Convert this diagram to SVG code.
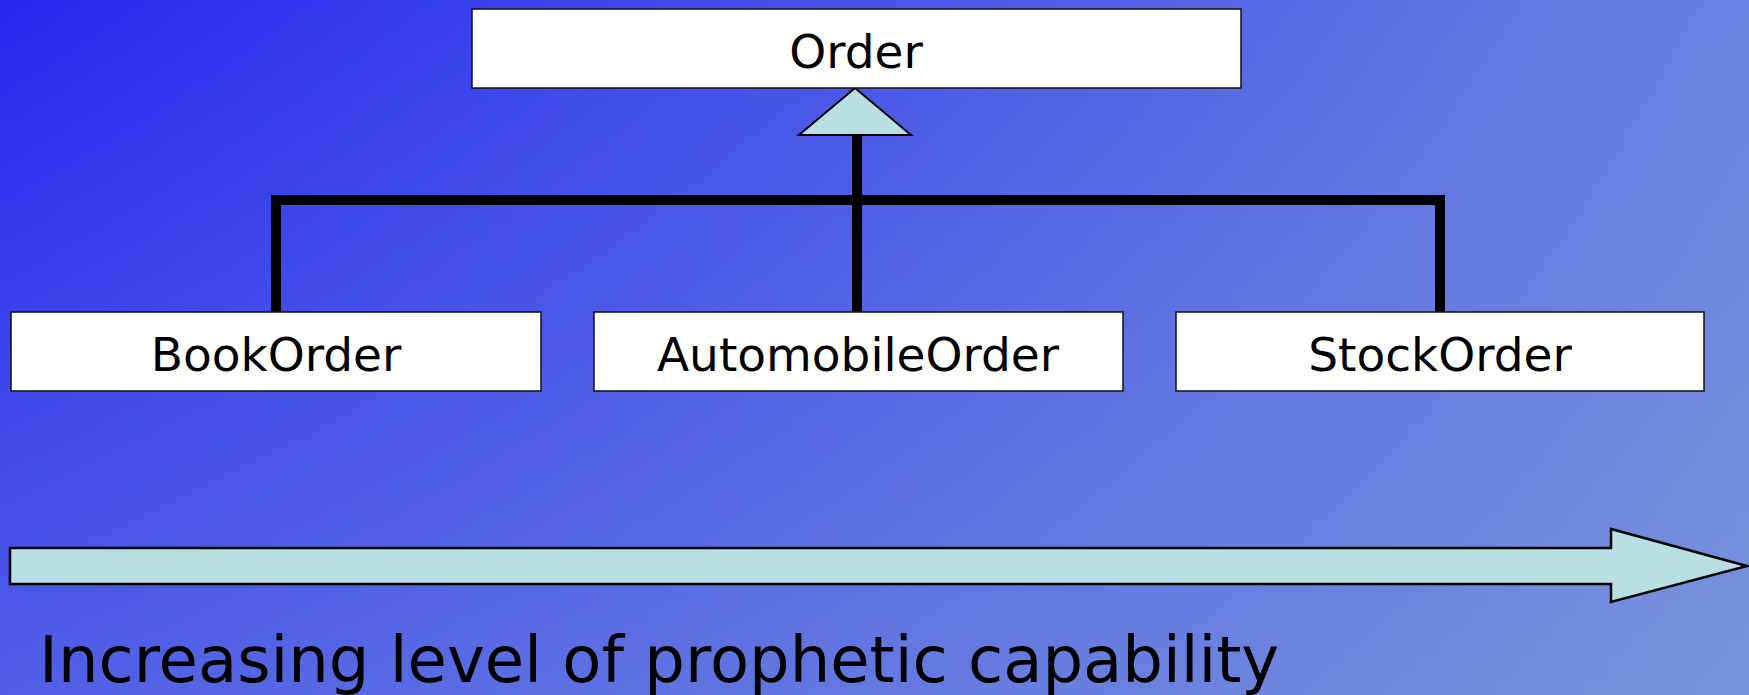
<svg xmlns="http://www.w3.org/2000/svg" width="1749" height="695" viewBox="0 0 1749 695">
  <defs>
    <linearGradient id="bgH" x1="0" y1="0" x2="1" y2="0">
      <stop offset="0" stop-color="#2428F0"/>
      <stop offset="1" stop-color="#6A82E0"/>
    </linearGradient>
    <linearGradient id="bgV" x1="0" y1="0" x2="0" y2="1">
      <stop offset="0" stop-color="#8CAAD7" stop-opacity="0"/>
      <stop offset="1" stop-color="#8CAAD7" stop-opacity="0.42"/>
    </linearGradient>
    <style>
      .box { fill: #FFFFFF; stroke: #111111; stroke-width: 1.5; }
      .lbl { font-family: "DejaVu Sans", Verdana, sans-serif; font-size: 47px; fill: #000000; text-anchor: middle; }
      .conn { fill: none; stroke: #000000; stroke-width: 10; stroke-linejoin: miter; stroke-linecap: butt; }
      .tri { fill: #B8E0E2; stroke: #000000; stroke-width: 2; stroke-linejoin: miter; }
      .big { fill: #B8E0E2; stroke: #000000; stroke-width: 2.5; stroke-linejoin: miter; }
      .caption { font-family: "DejaVu Sans", Verdana, sans-serif; font-size: 64px; fill: #000000; }
    </style>
  </defs>

  <rect x="0" y="0" width="1749" height="695" fill="url(#bgH)"/>
  <rect x="0" y="0" width="1749" height="695" fill="url(#bgV)"/>

  <g id="connectors">
    <path class="conn" d="M276,312 V200 H1440 V312"/>
    <path class="conn" d="M857,135 V312"/>
    <polygon class="tri" points="855,88 799,135 911,135"/>
  </g>

  <g id="node-order">
    <rect class="box" x="472" y="9" width="769" height="79"/>
    <text class="lbl" x="856" y="68">Order</text>
  </g>

  <g id="node-bookorder">
    <rect class="box" x="11" y="312" width="530" height="79"/>
    <text class="lbl" x="276" y="371">BookOrder</text>
  </g>

  <g id="node-automobileorder">
    <rect class="box" x="594" y="312" width="529" height="79"/>
    <text class="lbl" x="858" y="371">AutomobileOrder</text>
  </g>

  <g id="node-stockorder">
    <rect class="box" x="1176" y="312" width="528" height="79"/>
    <text class="lbl" x="1440" y="371">StockOrder</text>
  </g>

  <g id="progress-arrow">
    <polygon class="big" points="10,548 1611,548 1611,529 1747,566 1611,602 1611,584 10,584"/>
  </g>

  <text class="caption" x="39" y="682">Increasing level of prophetic capability</text>
</svg>
